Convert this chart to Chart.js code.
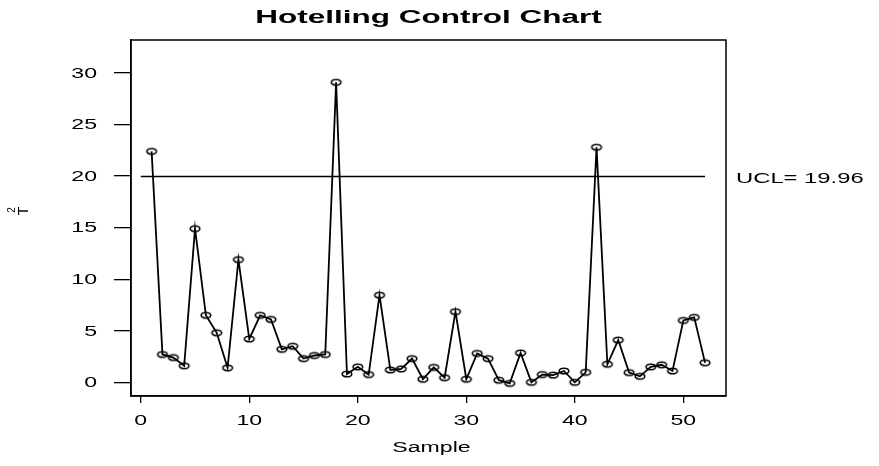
<!DOCTYPE html>
<html>
<head>
<meta charset="utf-8">
<script src="https://cdn.jsdelivr.net/npm/chart.js@4.4.1/dist/chart.umd.min.js"></script>
<style>
  body { margin: 0; background: #fff; }
  #wrap { width: 879px; height: 466px; position: relative; }
</style>
</head>
<body>
<div id="wrap"><canvas id="myChart"></canvas></div>
<script>
// T-squared value for each sample (sample number = position + 1)
let tsq = [22.4, 2.7, 2.4, 1.6, 14.9, 6.5, 4.8, 1.4, 11.9, 4.2,
           6.5, 6.1, 3.2, 3.5, 2.3, 2.6, 2.7, 29.1, 0.8, 1.5,
           0.75, 8.45, 1.2, 1.3, 2.3, 0.3, 1.45, 0.45, 6.85, 0.3,
           2.8, 2.3, 0.2, -0.1, 2.85, 0.0, 0.75, 0.7, 1.1, 0.0,
           0.97, 22.8, 1.75, 4.1, 0.94, 0.58, 1.5, 1.7, 1.1, 6.0,
           6.3, 1.9];
let ucl = 19.96;
let uclSpan = [0, 52];
let xTicks = [0, 10, 20, 30, 40, 50];
let yTicks = [0, 5, 10, 15, 20, 25, 30];

// the scanned picture is stretched sideways, so the text is too
const STRETCH = 1.65;
const FONT = '"Liberation Sans", Arial, sans-serif';

function wideText(ctx, str, px, py, font, align, sx) {
    ctx.save();
    ctx.font = font;
    ctx.textAlign = align;
    ctx.textBaseline = "middle";
    ctx.translate(px, py);
    ctx.scale(sx, 1);
    ctx.fillText(str, 0, 0);
    ctx.restore();
}

// open ellipse marker
let marker = document.createElement("canvas");
marker.width = 14;
marker.height = 10;
let mctx = marker.getContext("2d");
mctx.strokeStyle = "#000";
mctx.lineWidth = 1.6;
mctx.beginPath();
mctx.ellipse(7, 5, 4.8, 2.8, 0, 0, Math.PI * 2);
mctx.stroke();

let textPlugin = {
    id: "textPlugin",
    afterDraw(chart) {
        let ctx = chart.ctx;
        let a = chart.chartArea;
        let xs = chart.scales.x;
        let ys = chart.scales.y;

        ctx.save();
        ctx.strokeStyle = "#000";
        ctx.lineWidth = 1.5;
        ctx.strokeRect(a.left, a.top, a.right - a.left, a.bottom - a.top);
        ctx.fillStyle = "#000";

        // title
        wideText(ctx, "Hotelling Control Chart", (a.left + a.right) / 2, 18,
            "bold 18px " + FONT, "center", 1.75);

        // tick labels
        yTicks.forEach(v => {
            wideText(ctx, String(v), a.left - 34, ys.getPixelForValue(v) + 1,
                "14px " + FONT, "right", STRETCH);
        });
        xTicks.forEach(v => {
            wideText(ctx, String(v), xs.getPixelForValue(v), a.bottom + 25,
                "14px " + FONT, "center", STRETCH);
        });

        // axis titles
        wideText(ctx, "Sample", (a.left + a.right) / 2 + 3, 448,
            "14px " + FONT, "center", STRETCH);

        ctx.save();
        ctx.translate(24, (a.top + a.bottom) / 2 - 7);
        ctx.rotate(-Math.PI / 2);
        ctx.font = "14px " + FONT;
        ctx.textAlign = "center";
        ctx.textBaseline = "middle";
        ctx.fillText("T", 0, 0);
        ctx.font = "10px " + FONT;
        ctx.fillText("2", 1, -12);
        ctx.restore();

        // UCL label
        wideText(ctx, "UCL= " + ucl.toFixed(2), a.right + 10, ys.getPixelForValue(ucl) + 3,
            "14px " + FONT, "left", 1.7);
        ctx.restore();
    }
};

let config = {
    type: "line",
    data: {
        datasets: [
            {
                label: "T2",
                data: tsq.map((v, i) => ({ x: i + 1, y: v })),
                borderColor: "#000",
                borderWidth: 1.8,
                tension: 0,
                fill: false,
                pointStyle: marker,
                pointRadius: 5
            },
            {
                label: "UCL",
                data: uclSpan.map(v => ({ x: v, y: ucl })),
                borderColor: "#000",
                borderWidth: 1.6,
                pointRadius: 0,
                fill: false
            }
        ]
    },
    options: {
        responsive: true,
        maintainAspectRatio: false,
        animation: false,
        layout: {
            padding: { left: 0, right: 153, top: 40, bottom: 0 }
        },
        plugins: {
            legend: { display: false },
            tooltip: { enabled: false },
            title: { display: false }
        },
        scales: {
            x: {
                type: "linear",
                min: -0.9,
                max: 53.93,
                afterBuildTicks: s => { s.ticks = xTicks.map(v => ({ value: v })); },
                afterFit: s => { s.height = 70; },
                ticks: { display: false },
                grid: {
                    drawOnChartArea: false,
                    drawTicks: true,
                    tickLength: 7,
                    color: "#000",
                    lineWidth: 1.3
                },
                border: { display: true, color: "#000", width: 1.5 }
            },
            y: {
                min: -1.33,
                max: 33.2,
                afterBuildTicks: s => { s.ticks = yTicks.map(v => ({ value: v })); },
                afterFit: s => { s.width = 131; },
                ticks: { display: false },
                grid: {
                    drawOnChartArea: false,
                    drawTicks: true,
                    tickLength: 17,
                    color: "#000",
                    lineWidth: 1.3
                },
                border: { display: true, color: "#000", width: 1.5 }
            }
        }
    },
    plugins: [textPlugin]
};

let ctx = document.getElementById("myChart").getContext("2d");
let myChart = new Chart(ctx, config);
</script>
</body>
</html>
